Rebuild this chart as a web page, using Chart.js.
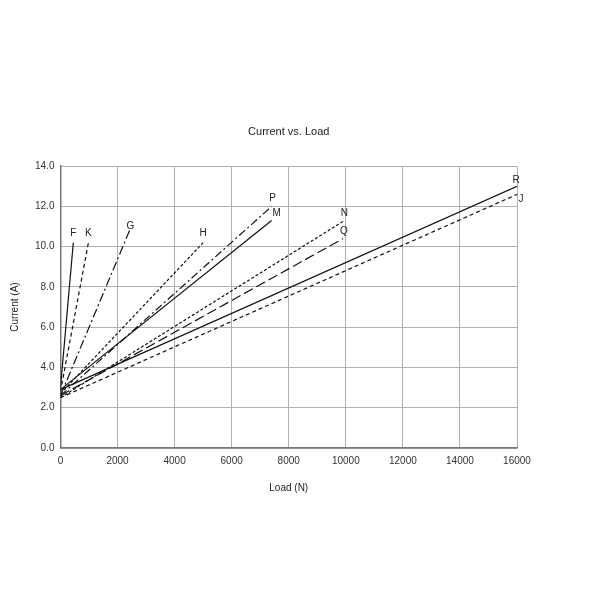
<!DOCTYPE html>
<html><head><meta charset="utf-8">
<script src="https://cdn.jsdelivr.net/npm/chart.js@4"></script>
<style>html,body{margin:0;padding:0;background:#fff}#wrap{width:600px;height:600px}</style>
</head><body><div id="wrap"><canvas id="c" width="600" height="600"></canvas></div>
<script>
const seriesNames   = ['F', 'K', 'G', 'H', 'P', 'M', 'N', 'Q', 'R', 'J'];
const startCurrents = [3.0, 2.8, 2.6, 2.7, 2.6, 2.9, 2.5, 2.6, 2.9, 2.5];
const endLoads      = [450, 980, 2450, 5000, 7400, 7400, 9950, 9900, 16000, 16000];
const endCurrents   = [10.2, 10.2, 10.9, 10.2, 12.0, 11.3, 11.3, 10.4, 13.0, 12.6];
const dashes = [[], [4,3], [9,3,2,3], [3,2], [8,3,2,3], [], [3,2], [10,4], [], [4,3]];
const labelOffsets = [[0,-9],[0,-9],[0,-2],[0,-9],[1,-8],[5,-7],[0,-7],[1,-7],[-1,-6],[4,5]];
const yTicks = [0, 2, 4, 6, 8, 10, 12, 14];

const datasets = seriesNames.map((n, i) => ({
  label: n,
  data: [{x: 0, y: startCurrents[i]}, {x: endLoads[i], y: endCurrents[i]}],
  borderColor: '#111', borderWidth: 1.2, borderDash: dashes[i],
  pointRadius: 0, showLine: true, fill: false
}));

const endLabels = {
  id: 'endLabels',
  afterDatasetsDraw(chart) {
    const ctx = chart.ctx, xs = chart.scales.x, ys = chart.scales.y;
    ctx.save();
    ctx.font = '10px "Liberation Sans", Arial, sans-serif';
    ctx.fillStyle = '#222'; ctx.textAlign = 'center'; ctx.textBaseline = 'middle';
    seriesNames.forEach((n, i) => {
      const px = xs.getPixelForValue(endLoads[i]) + labelOffsets[i][0];
      const py = ys.getPixelForValue(endCurrents[i]) + labelOffsets[i][1];
      ctx.fillText(n, px, py);
    });
    ctx.restore();
  }
};

new Chart(document.getElementById('c'), {
  type: 'scatter',
  data: { datasets },
  plugins: [endLabels],
  options: {
    responsive: false, animation: false,
    layout: { padding: { top: 125, left: 5, right: 83, bottom: 102 } },
    plugins: {
      legend: { display: false }, tooltip: { enabled: false },
      title: { display: true, fullSize: false, text: 'Current vs. Load', color: '#222',
        font: { family: '"Liberation Sans", Arial, sans-serif', size: 11, weight: 'normal' },
        padding: { top: 0, bottom: 28 } }
    },
    scales: {
      x: { type: 'linear', min: 0, max: 16000,
        ticks: { stepSize: 2000, color: '#333', font: { family: '"Liberation Sans", Arial, sans-serif', size: 10 },
          callback: v => String(v), maxRotation: 0, padding: 7 },
        grid: { color: '#b0b0b0', lineWidth: 1, drawTicks: false },
        border: { color: '#777', width: 1.5 },
        title: { display: true, text: 'Load (N)', color: '#222',
          font: { family: '"Liberation Sans", Arial, sans-serif', size: 10 }, padding: { top: 8 } } },
      y: { min: 0, max: 14,
        afterBuildTicks: s => { s.ticks = yTicks.map(v => ({ value: v })); },
        ticks: { color: '#333', font: { family: '"Liberation Sans", Arial, sans-serif', size: 10 },
          callback: v => Number(v).toFixed(1), padding: 6 },
        grid: { color: '#b0b0b0', lineWidth: 1, drawTicks: false },
        border: { color: '#777', width: 1.5 },
        title: { display: true, text: 'Current (A)', color: '#222',
          font: { family: '"Liberation Sans", Arial, sans-serif', size: 10 }, padding: { bottom: 8 } } }
    }
  }
});
</script></body></html>
